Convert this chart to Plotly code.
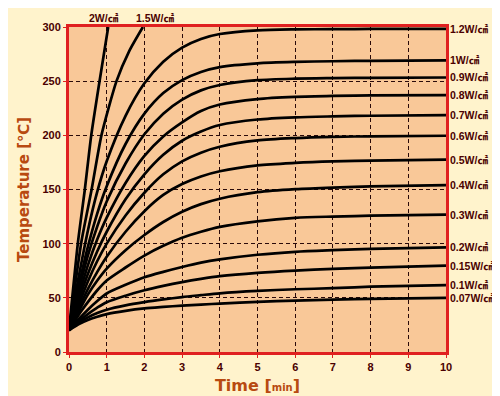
import plotly.graph_objects as go

# ---- data ----
time_min = [0, 0.25, 0.5, 0.75, 1, 1.5, 2, 2.5, 3, 3.5, 4, 5, 6, 7, 8, 10]

series = {
    "1.2W/㎠": [20, 68, 112, 148, 176, 218, 248, 268, 281, 289, 293.5, 296.9, 297.8, 298, 298.2, 298.3],
    "1W/㎠":   [20, 60, 97, 128, 153, 192, 220, 239, 251, 258.5, 263, 266.5, 267.8, 268.4, 268.8, 269.2],
    "0.9W/㎠": [20, 56, 89, 116, 139, 174, 201, 220, 233, 241.5, 246.5, 250.9, 252.3, 252.8, 253.1, 253.4],
    "0.8W/㎠": [20, 51, 80, 104, 124, 156, 181, 199, 212, 222.5, 228.5, 233.5, 235.5, 236.4, 236.9, 237.2],
    "0.7W/㎠": [20, 47, 72, 93, 111, 141, 164, 182, 195, 203.5, 209.5, 214.6, 216.6, 217.5, 218.1, 218.7],
    "0.6W/㎠": [20, 43, 65, 84, 100, 126, 147, 164, 176, 184, 189.5, 195.3, 197.5, 198.6, 199.1, 199.6],
    "0.5W/㎠": [20, 40, 58, 74, 88, 111, 130, 145, 155, 162, 166.8, 172.2, 174.5, 175.9, 176.7, 177.5],
    "0.4W/㎠": [20, 37, 53, 66, 77, 94, 108, 120, 129.5, 136.5, 141.5, 147.5, 150.3, 151.8, 152.8, 154],
    "0.3W/㎠": [20, 34, 46, 57, 66, 78, 89, 98, 105.5, 111, 115.5, 120.6, 123.8, 125, 125.8, 126.8],
    "0.2W/㎠": [20, 30, 39, 47, 54, 62, 69, 74, 78.5, 82.5, 85.5, 89.8, 92.5, 94, 95.2, 96.5],
    "0.15W/㎠": [20, 28, 35, 41, 46, 52, 57, 61, 64.5, 67.5, 70, 73.1, 75.2, 76.7, 77.9, 79.7],
    "0.1W/㎠":  [20, 27, 32, 36, 39, 43, 46, 48.5, 50.7, 52.5, 54.2, 56.4, 57.9, 58.9, 60.3, 61.8],
    "0.07W/㎠": [20, 25.5, 29.5, 32.5, 35, 38, 40.2, 41.6, 42.8, 43.8, 44.7, 46.3, 47.4, 48.3, 49, 49.9],
}

time_2w = [0, 0.24, 0.42, 0.59, 0.81, 1.04]
temp_2w = [20, 102, 150, 200, 250, 300]
time_15w = [0, 0.33, 0.6, 0.86, 1.26, 1.6, 1.96]
temp_15w = [20, 102, 150, 200, 250, 278, 300]

x_ticks = list(range(0, 11))
y_ticks = [0, 50, 100, 150, 200, 250, 300]

# ---- styling ----
LINE = "#000000"
LABEL = "#4a0000"
TITLE = "#b84a10"
BORDER = "#e02020"
LFONT = "Liberation Sans, Noto Sans CJK JP"

fig = go.Figure()

for name, vals in series.items():
    fig.add_trace(go.Scatter(x=time_min, y=vals, mode="lines", name=name,
                             line=dict(color=LINE, width=2.7, shape="spline", smoothing=0.8),
                             hoverinfo="skip", showlegend=False))
    fig.add_annotation(x=time_min[-1], y=vals[-1], xref="x", yref="y",
                       text=name, showarrow=False, xanchor="left", yanchor="middle",
                       xshift=2, font=dict(family=LFONT, size=10.5, color=LABEL, weight="bold"))

fig.add_trace(go.Scatter(x=time_2w, y=temp_2w, mode="lines",
                         line=dict(color=LINE, width=2.7, shape="spline", smoothing=0.6),
                         hoverinfo="skip", showlegend=False))
fig.add_trace(go.Scatter(x=time_15w, y=temp_15w, mode="lines",
                         line=dict(color=LINE, width=2.7, shape="spline", smoothing=0.6),
                         hoverinfo="skip", showlegend=False))

fig.add_annotation(x=time_2w[-1], y=temp_2w[-1], xref="x", yref="y", text="2W/㎠",
                   showarrow=False, xanchor="center", yanchor="bottom", yshift=1, xshift=-4,
                   font=dict(family=LFONT, size=10.5, color=LABEL, weight="bold"))
fig.add_annotation(x=time_15w[-1], y=temp_15w[-1], xref="x", yref="y", text="1.5W/㎠",
                   showarrow=False, xanchor="center", yanchor="bottom", yshift=1, xshift=12,
                   font=dict(family=LFONT, size=10.5, color=LABEL, weight="bold"))

fig.update_layout(
    width=500, height=396,
    margin=dict(l=61, r=62, t=19, b=42),
    paper_bgcolor="#fff3cc",
    plot_bgcolor="#f9c898",
    showlegend=False,
)

fig.update_xaxes(
    range=[0, 10], tickvals=x_ticks, ticktext=[str(v) for v in x_ticks],
    showgrid=True, gridcolor="#2a0a0a", griddash="4px,3px", gridwidth=1,
    showline=True, linecolor=BORDER, linewidth=3, mirror=True,
    ticks="outside", ticklen=3, tickcolor=BORDER,
    tickfont=dict(family="Liberation Sans", size=11, color=LABEL, weight="bold"),
    zeroline=False,
    title=dict(text="Time [<span style='font-size:10px'>min</span>]",
               font=dict(family="DejaVu Sans", size=16, color=TITLE, weight="bold"),
               standoff=8),
)
fig.update_yaxes(
    range=[0, 300], tickvals=y_ticks, ticktext=[str(v) for v in y_ticks],
    showgrid=True, gridcolor="#2a0a0a", griddash="4px,3px", gridwidth=1,
    showline=True, linecolor=BORDER, linewidth=3, mirror=True,
    ticks="outside", ticklen=3, tickcolor=BORDER,
    tickfont=dict(family="Liberation Sans", size=11, color=LABEL, weight="bold"),
    zeroline=False,
    title=dict(text="Temperature [℃]",
               font=dict(family="DejaVu Sans", size=15, color=TITLE, weight="bold"),
               standoff=10),
)

fig.write_html("out.html")
